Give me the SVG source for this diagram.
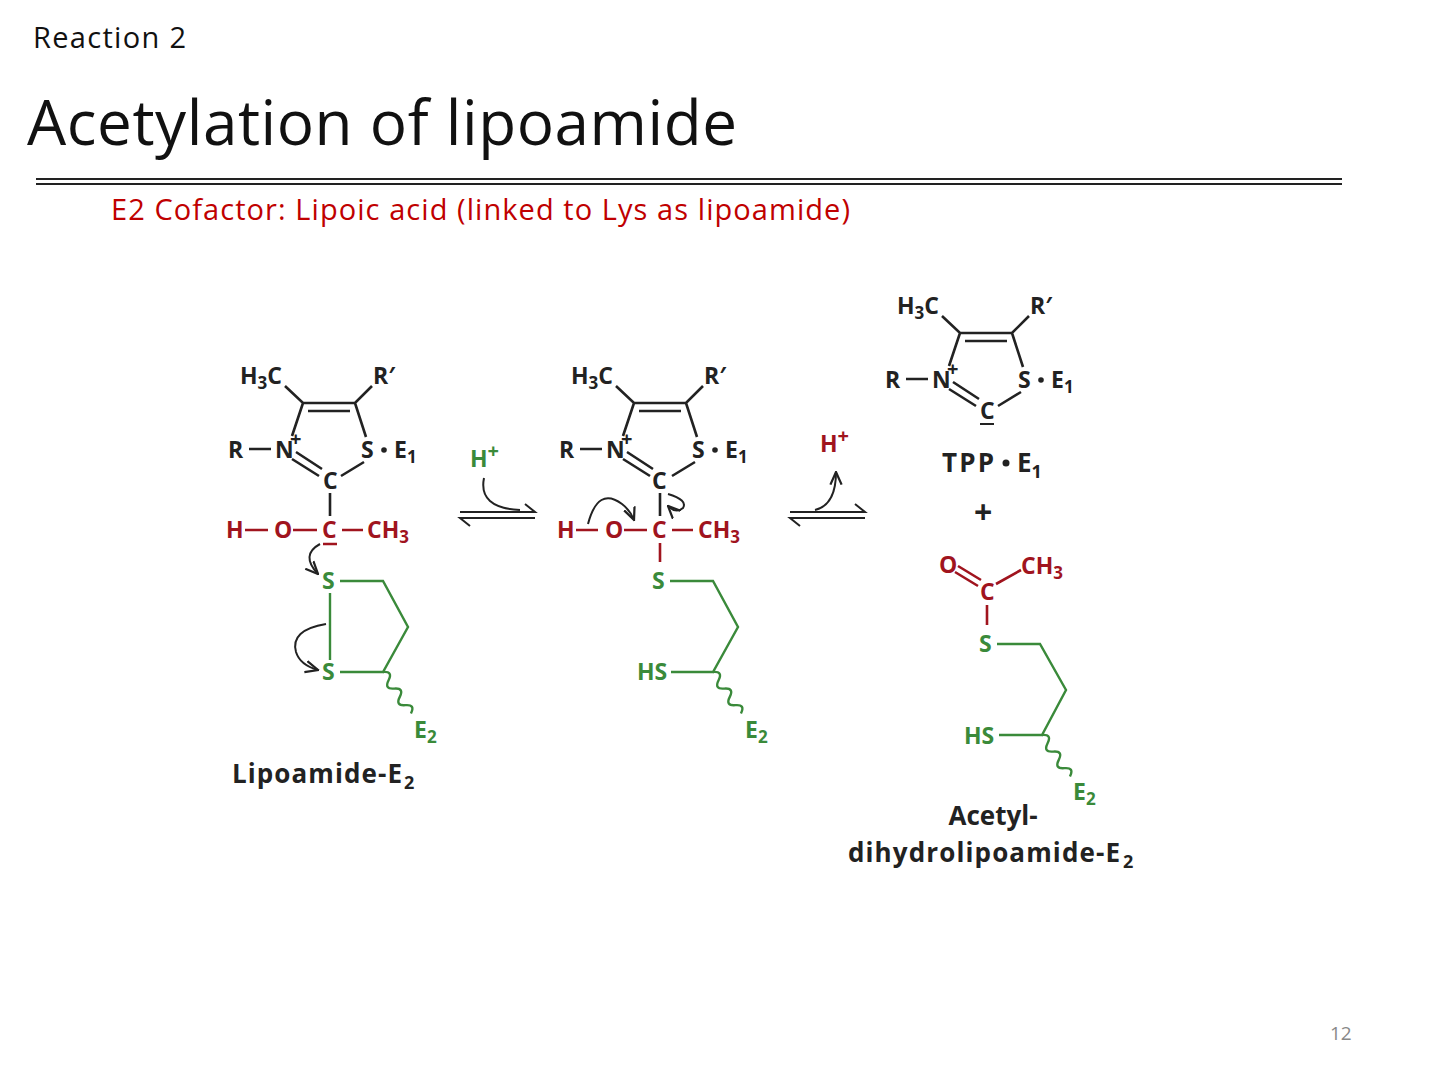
<svg xmlns="http://www.w3.org/2000/svg" width="1440" height="1080" viewBox="0 0 1440 1080">
<style>
.t{font-family:"Open Sans","Liberation Sans",sans-serif;font-weight:700;font-size:23px}
.k{fill:#222}.r{fill:#a0141e}.g{fill:#3a8a3a}
.lk{stroke:#222;stroke-width:2.6;fill:none}
.lr{stroke:#a0141e;stroke-width:2.6;fill:none}
.lg{stroke:#3a8a3a;stroke-width:2.4;fill:none}
.ar{stroke:#222;stroke-width:2;fill:none;marker-end:url(#ah)}
.sub{font-size:17px}
.bl{font-family:"Open Sans","Liberation Sans",sans-serif;font-weight:700;font-size:26px;fill:#222}
</style>
<defs>
<marker id="ah" viewBox="0 0 10 10" refX="9" refY="5" markerWidth="7" markerHeight="7" orient="auto"><path d="M0,1 L9,5 L0,9" fill="none" stroke="#222" stroke-width="1.6"/></marker>
<path id="wave" d="M0,0 q5,-9 10,0 t10,0 t10,0 t10,0 t10,0" class="lg"/>
<g id="ring">
<text x="240" y="384" class="t k">H<tspan class="sub" dy="5">3</tspan><tspan dy="-5">C</tspan></text>
<text x="373" y="384" class="t k">R′</text>
<text x="228" y="458" class="t k">R</text>
<text x="275" y="458" class="t k">N</text>
<text x="290" y="446" class="t k" style="font-size:20px">+</text>
<text x="361" y="458" class="t k">S</text>
<circle cx="384" cy="450" r="2.8" fill="#222"/>
<text x="394" y="458" class="t k">E<tspan class="sub" dy="5">1</tspan></text>
<path class="lk" d="M285,386 L303,403 L355,403 L372,386 M308,411 L350,411 M303,403 L292,436 M355,403 L366,437 M249,449 L271,449 M292,459 L319,476 M296,452 L322,469 M364,462 L341,476"/>
</g>
</defs>
<rect width="1440" height="1080" fill="#fff"/>
<text x="33" y="48" font-family="Open Sans, Liberation Sans, sans-serif" font-size="29" fill="#111" textLength="153">Reaction 2</text>
<text x="27" y="145" font-family="Open Sans, Liberation Sans, sans-serif" font-size="62" fill="#111" textLength="710">Acetylation of lipoamide</text>
<path d="M36,179 H1342 M36,184 H1342" stroke="#222" stroke-width="2"/>
<text x="111" y="220" font-family="Open Sans, Liberation Sans, sans-serif" font-size="29" fill="#c00000" textLength="739">E2 Cofactor: Lipoic acid (linked to Lys as lipoamide)</text>
<text x="1330" y="1040" font-family="Open Sans, Liberation Sans, sans-serif" font-size="19" fill="#888">12</text>

<g id="lipoamide">
<use href="#ring"/>
<text x="323" y="489" class="t k">C</text>
<path class="lk" d="M330,493 V516"/>
<text x="226" y="538" class="t r">H</text><text x="274" y="538" class="t r">O</text><text x="322" y="538" class="t r">C</text>
<text x="367" y="538" class="t r">CH<tspan class="sub" dy="5">3</tspan></text>
<path class="lr" d="M245,530 H268 M293,530 H317 M323,544 H337 M342,530 H363"/>
<path class="ar" d="M320,544 Q300,555 318,574"/>
<text x="322" y="589" class="t g">S</text><text x="322" y="680" class="t g">S</text>
<path class="lg" d="M330,593 V660 M340,581 H383 L408,627 L383,672 H340"/>
<use href="#wave" transform="translate(383,672) rotate(56)"/>
<text x="414" y="738" class="t g">E<tspan class="sub" dy="5">2</tspan></text>
<path class="ar" d="M326,624 Q290,630 296,652 Q300,665 318,670"/>
<text x="232" y="783" class="bl" textLength="170">Lipoamide-E</text><text x="404" y="789" class="bl" style="font-size:18px">2</text>
</g>

<g id="eq1">
<path class="lk" style="stroke-width:2" d="M460,512 H535 L525,504 M535,518 H460 L470,526"/>
<text x="470" y="467" class="t g">H<tspan dy="-9" style="font-size:20px">+</tspan></text>
<path class="lk" style="stroke-width:2" d="M484,478 Q478,508 520,510"/>
</g>

<g id="intermediate">
<use href="#ring" transform="translate(331,0)"/>
<text x="652" y="489" class="t k">C</text>
<path class="lk" d="M660,493 V516"/>
<text x="557" y="538" class="t r">H</text><text x="605" y="538" class="t r">O</text><text x="652" y="538" class="t r">C</text>
<text x="698" y="538" class="t r">CH<tspan class="sub" dy="5">3</tspan></text>
<path class="lr" d="M576,530 H598 M624,530 H647 M672,530 H693 M660,543 V562"/>
<path class="ar" d="M588,524 Q598,486 622,504 Q630,510 634,520"/>
<path class="ar" d="M668,494 Q688,500 683,508 Q676,514 668,506"/>
<text x="652" y="589" class="t g">S</text>
<path class="lg" d="M670,581 H713 L738,627 L713,672 H671"/>
<text x="637" y="680" class="t g">HS</text>
<use href="#wave" transform="translate(713,672) rotate(56)"/>
<text x="745" y="738" class="t g">E<tspan class="sub" dy="5">2</tspan></text>
</g>

<g id="eq2">
<path class="lk" style="stroke-width:2" d="M790,512 H865 L855,504 M865,518 H790 L800,526"/>
<text x="820" y="452" class="t r">H<tspan dy="-9" style="font-size:20px">+</tspan></text>
<path class="ar" d="M815,510 Q836,505 836,472"/>
</g>

<g id="tpp">
<use href="#ring" transform="translate(657,-70)"/>
<text x="980" y="419" class="t k">C</text>
<path class="lk" style="stroke-width:2" d="M980,424 H994"/>
<text x="942" y="472" class="bl" textLength="52">TPP</text>
<circle cx="1006" cy="463" r="3.5" fill="#222"/>
<text x="1017" y="472" class="bl">E<tspan style="font-size:18px" dy="6">1</tspan></text>
<text x="974" y="524" class="bl" style="font-size:32px">+</text>
</g>

<g id="acetyl">
<text x="939" y="573" class="t r">O</text><text x="980" y="600" class="t r">C</text>
<text x="1021" y="574" class="t r">CH<tspan class="sub" dy="5">3</tspan></text>
<path class="lr" d="M955,572 L978,586 M958,566 L981,580 M996,584 L1021,570 M987,605 V625"/>
<text x="979" y="652" class="t g">S</text>
<path class="lg" d="M997,644 H1040 L1066,690 L1042,735 H999"/>
<text x="964" y="744" class="t g">HS</text>
<use href="#wave" transform="translate(1042,735) rotate(56)"/>
<text x="1073" y="800" class="t g">E<tspan class="sub" dy="5">2</tspan></text>
<text x="993" y="825" class="bl" text-anchor="middle">Acetyl-</text>
<text x="848" y="862" class="bl" textLength="272">dihydrolipoamide-E</text><text x="1123" y="868" class="bl" style="font-size:18px">2</text>
</g>
</svg>
